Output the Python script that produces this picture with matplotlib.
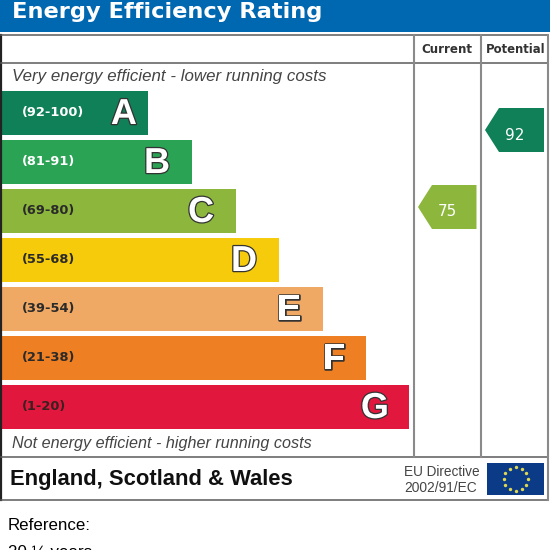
import matplotlib
matplotlib.use('Agg')
import matplotlib.pyplot as plt
from matplotlib.patches import Polygon, Rectangle
import matplotlib.patheffects as pe
import numpy as np

bands = ['(92-100)', '(81-91)', '(69-80)', '(55-68)', '(39-54)', '(21-38)', '(1-20)']
letters = ['A', 'B', 'C', 'D', 'E', 'F', 'G']
colors = ['#0f8057', '#2aa354', '#8cb63c', '#f5cb0c', '#f0a965', '#ee7f22', '#e2173d']
band_text = ['white', 'white', '#2a2a2a', '#2a2a2a', '#2a2a2a', '#2a2a2a', '#3a2020']
bar_lengths = [146, 190, 234, 277, 321, 364, 407]
letter_gap = [11, 22, 22, 22, 22, 21, 20]
current_value = '75'
potential_value = '92'

plt.rcParams['font.family'] = ['Liberation Sans', 'DejaVu Sans']

fig = plt.figure(figsize=(5.5, 5.5), dpi=100)
ax = fig.add_axes([0, 0, 1, 1])
ax.set_xlim(0, 550)
ax.set_ylim(550, 0)
ax.axis('off')

# blue banner
ax.add_patch(Rectangle((0, 0), 550, 32, color='#0067b1', lw=0))
ax.text(12, 18, 'Energy Efficiency Rating', color='white', fontsize=16.2, fontweight='bold',
        family='DejaVu Sans', va='baseline')

# table lines
line_col = '#5a5a5a'
ax.plot([1, 1], [35, 500], color='#222222', lw=1.6)
ax.plot([1, 548], [35, 35], color=line_col, lw=1.1)
ax.plot([1, 548], [63, 63], color=line_col, lw=1.1)
ax.plot([1, 548], [457, 457], color=line_col, lw=1.1)
ax.plot([1, 548], [500, 500], color=line_col, lw=1.1)
ax.plot([414, 414], [35, 457], color='#8a8a8a', lw=1.5)
ax.plot([481, 481], [35, 457], color='#8a8a8a', lw=1.5)
ax.plot([548, 548], [35, 500], color='#8a8a8a', lw=1.5)

ax.text(447, 49.5, 'Current', fontsize=8.6, fontweight='bold', family='DejaVu Sans', color='#333333', ha='center', va='center')
ax.text(515.5, 49.5, 'Potential', fontsize=8.4, fontweight='bold', family='DejaVu Sans', color='#333333', ha='center', va='center')

ax.text(12, 77, 'Very energy efficient - lower running costs', fontsize=12.2, style='italic', color='#444444', va='center')
ax.text(12, 443.5, 'Not energy efficient - higher running costs', fontsize=11.6, style='italic', color='#444444', va='center')

# rating bars
y = 113 + 49 * np.arange(len(bands))
ax.barh(y, bar_lengths, height=44, left=2, color=colors, lw=0)
outline = [pe.withStroke(linewidth=1.8, foreground='#333333')]
for i in range(len(bands)):
    ax.text(22, y[i] - 0.5, bands[i], fontsize=9.4, fontweight='bold', family='DejaVu Sans', color=band_text[i], va='center')
    ax.text(2 + bar_lengths[i] - letter_gap[i], y[i] + 1.5, letters[i], fontsize=26, fontweight='bold', color='white',
            ha='right', va='center', path_effects=outline)


def arrow(x0, x1, ytop, ybot, col, label):
    ymid = (ytop + ybot) / 2
    pts = [(x0, ymid), (x0 + 14, ytop), (x1, ytop), (x1, ybot), (x0 + 14, ybot)]
    ax.add_patch(Polygon(pts, closed=True, color=col, lw=0))
    ax.text((x0 + x1) / 2, ymid + 5, label, color='white', fontsize=11, family='DejaVu Sans', ha='center', va='center')


arrow(418, 476.5, 185, 229, colors[2], current_value)
arrow(485, 544, 108, 152, colors[0], potential_value)

# footer
ax.text(10, 479.5, 'England, Scotland & Wales', fontsize=15.8, fontweight='bold', color='#101010', va='center')
ax.text(404, 472, 'EU Directive', fontsize=9.8, color='#444444', va='center')
ax.text(404, 487.5, '2002/91/EC', fontsize=9.9, color='#444444', va='center')

# EU flag
ax.add_patch(Rectangle((487, 463), 57, 32, color='#0b3a86', lw=0))
angles = np.deg2rad(np.arange(0, 360, 30))
ax.scatter(515.5 + 12 * np.cos(angles), 479 + 12 * np.sin(angles), s=6, marker='o', color='#e0d850', lw=0)

ax.text(8, 525, 'Reference:', fontsize=12.2, color='black', va='center')
ax.text(8, 553, '20 ½ years', fontsize=12.2, color='black', va='center')

fig.savefig('out.png', dpi=100)
